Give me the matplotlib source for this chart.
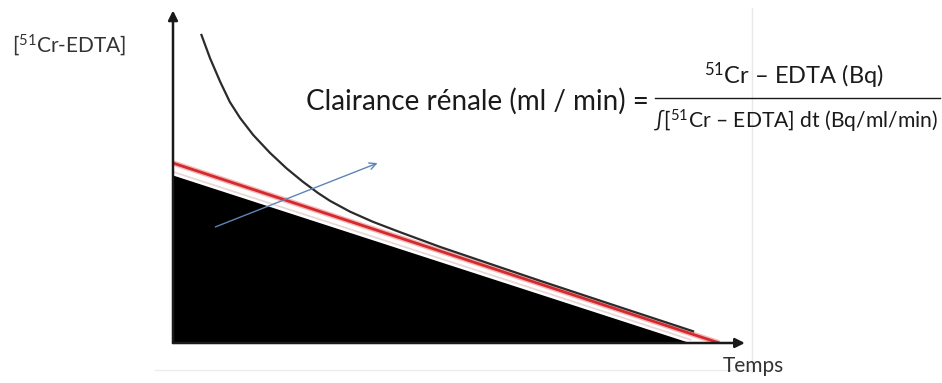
import matplotlib.pyplot as plt

plt.rcParams['font.family'] = ['Lato', 'DejaVu Sans']
plt.rcParams['mathtext.fontset'] = 'custom'
plt.rcParams['mathtext.rm'] = 'Lato'
plt.rcParams['mathtext.default'] = 'regular'

# ------------------------------------------------------------
#  Données lues sur le schéma (unités arbitraires, 0-100)
# ------------------------------------------------------------
# courbe de décroissance plasmatique du 51Cr-EDTA
temps_courbe = [5.0, 6.5, 8.3, 10.0, 11.8, 14.1, 17.0, 20.0, 22.8, 25.5,
                27.6, 31.1, 35.1, 39.9, 46.9, 55.0, 65.0, 78.0, 91.4]
conc_courbe = [94.5, 87.4, 80.1, 73.9, 69.0, 63.8, 58.4, 53.5, 49.5, 46.0,
               43.6, 40.3, 37.2, 34.0, 29.5, 24.7, 18.8, 11.3, 3.6]

# droite extrapolée (phase lente)
temps_droite = [0.0, 96.0]
conc_droite = [55.2, 0.0]

# aire sous la courbe (triangle noir)
temps_aire = [0.0, 91.0]
conc_aire = [51.5, 0.0]

# flèche bleue
fleche_debut = (7.0, 35.3)
fleche_fin = (36.4, 55.5)

W, H = 942, 383

fig = plt.figure(figsize=(W / 100, H / 100), dpi=100)
fig.patch.set_facecolor('white')

# axe principal : origine à (173, 343) px, extrémités (742, 17) px
ax = fig.add_axes([173 / W, (H - 343) / H, (742 - 173) / W, (343 - 17) / H])
ax.set_xlim(0, 100)
ax.set_ylim(0, 100)
ax.axis('off')

ax.fill_between(temps_aire, conc_aire, 0, color='black', lw=0, zorder=2)
ax.plot(temps_aire, [c + 1.0 for c in conc_aire], color='#e9d6d6', lw=1.2, zorder=2)
ax.plot(temps_droite, conc_droite, color='#f3b9b9', lw=4.0, zorder=3,
        solid_capstyle='butt')
ax.plot(temps_droite, conc_droite, color='#d42a2e', lw=2.0, zorder=4,
        solid_capstyle='butt')
ax.plot(temps_courbe, conc_courbe, color='#2b2b2b', lw=1.6, zorder=5,
        solid_joinstyle='round')

ax.annotate('', xy=fleche_fin, xytext=fleche_debut,
            arrowprops=dict(arrowstyle='->', color='#5b86b8', lw=1.0,
                            mutation_scale=12), zorder=6)

# axes fléchés
ax.annotate('', xy=(0, 102), xytext=(0, 0), annotation_clip=False,
            arrowprops=dict(arrowstyle='-|>', color='#1a1a1a', lw=1.8,
                            mutation_scale=14, shrinkA=0, shrinkB=0), zorder=7)
ax.annotate('', xy=(100.5, 0), xytext=(0, 0), annotation_clip=False,
            arrowprops=dict(arrowstyle='-|>', color='#1a1a1a', lw=1.8,
                            mutation_scale=14, shrinkA=0, shrinkB=0), zorder=7)

# calque en pixels pour les repères de la diapositive
ov = fig.add_axes([0, 0, 1, 1], zorder=-1)
ov.set_xlim(0, W)
ov.set_ylim(H, 0)
ov.axis('off')
ov.plot([752, 752], [8, 372], color='#e8e8e8', lw=1)
ov.plot([155, 752], [370, 370], color='#ececec', lw=1)

# calque en pixels pour les textes
txt = fig.add_axes([0, 0, 1, 1], zorder=10)
txt.set_xlim(0, W)
txt.set_ylim(H, 0)
txt.axis('off')
txt.patch.set_alpha(0)

txt.text(12, 45, r'[$^{51}$Cr-EDTA]', fontsize=15, color='#333333',
         ha='left', va='center')
txt.text(784, 366, 'Temps', fontsize=15, color='#333333',
         ha='right', va='center')

txt.text(649, 101, 'Clairance rénale (ml / min) =', fontsize=20,
         color='#1a1a1a', ha='right', va='center')
txt.plot([655, 940], [98, 98], color='#1a1a1a', lw=1.0)
txt.text(794, 76, r'$^{51}$Cr – EDTA (Bq)', fontsize=17, color='#1a1a1a',
         ha='center', va='center')
txt.text(796, 121, r'∫[$^{51}$Cr – EDTA] dt (Bq/ml/min)', fontsize=15.2,
         color='#1a1a1a', ha='center', va='center')

fig.savefig('out.png', dpi=100, facecolor='white')
